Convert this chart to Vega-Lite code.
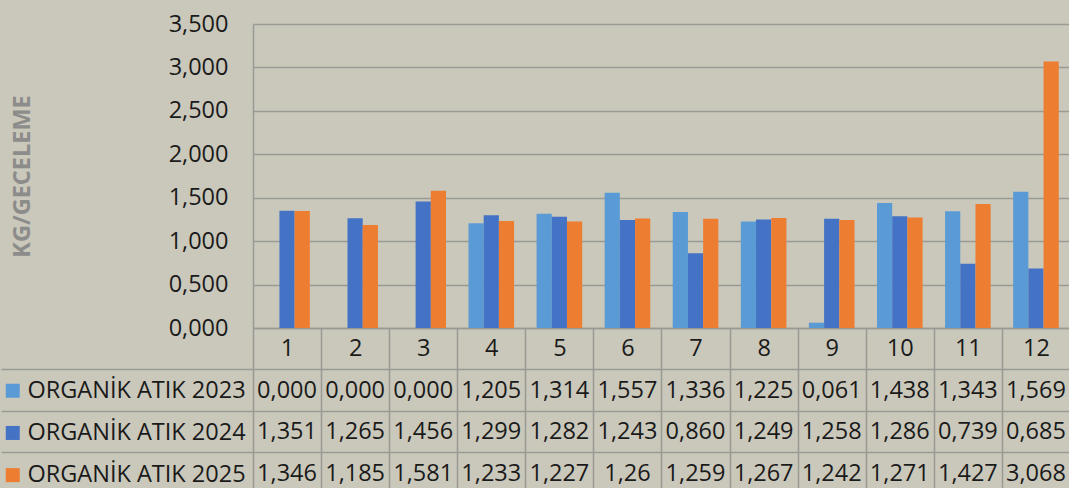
{
  "$schema": "https://vega.github.io/schema/vega-lite/v6.json",
  "background": "#CAC8BB",
  "padding": {"left": 0, "top": 12, "right": -1, "bottom": -6},
  "config": {
    "font": "Open Sans",
    "view": {"stroke": null},
    "locale": {"number": {"decimal": ",", "thousands": ".", "grouping": [3], "currency": ["", ""]}},
    "axis": {
      "labelFont": "Open Sans",
      "labelFontSize": 23.5,
      "labelColor": "#1a1a1a",
      "domainColor": "#9a9a95",
      "gridColor": "#9a9a95",
      "tickColor": "#9a9a95",
      "domainWidth": 1.5,
      "gridWidth": 1.5,
      "tickWidth": 1.5
    }
  },
  "data": {
    "values": [
      {"month": 1, "series": "ORGANİK ATIK 2023", "value": 0.000, "label": "0,000"},
      {"month": 2, "series": "ORGANİK ATIK 2023", "value": 0.000, "label": "0,000"},
      {"month": 3, "series": "ORGANİK ATIK 2023", "value": 0.000, "label": "0,000"},
      {"month": 4, "series": "ORGANİK ATIK 2023", "value": 1.205, "label": "1,205"},
      {"month": 5, "series": "ORGANİK ATIK 2023", "value": 1.314, "label": "1,314"},
      {"month": 6, "series": "ORGANİK ATIK 2023", "value": 1.557, "label": "1,557"},
      {"month": 7, "series": "ORGANİK ATIK 2023", "value": 1.336, "label": "1,336"},
      {"month": 8, "series": "ORGANİK ATIK 2023", "value": 1.225, "label": "1,225"},
      {"month": 9, "series": "ORGANİK ATIK 2023", "value": 0.061, "label": "0,061"},
      {"month": 10, "series": "ORGANİK ATIK 2023", "value": 1.438, "label": "1,438"},
      {"month": 11, "series": "ORGANİK ATIK 2023", "value": 1.343, "label": "1,343"},
      {"month": 12, "series": "ORGANİK ATIK 2023", "value": 1.569, "label": "1,569"},
      {"month": 1, "series": "ORGANİK ATIK 2024", "value": 1.351, "label": "1,351"},
      {"month": 2, "series": "ORGANİK ATIK 2024", "value": 1.265, "label": "1,265"},
      {"month": 3, "series": "ORGANİK ATIK 2024", "value": 1.456, "label": "1,456"},
      {"month": 4, "series": "ORGANİK ATIK 2024", "value": 1.299, "label": "1,299"},
      {"month": 5, "series": "ORGANİK ATIK 2024", "value": 1.282, "label": "1,282"},
      {"month": 6, "series": "ORGANİK ATIK 2024", "value": 1.243, "label": "1,243"},
      {"month": 7, "series": "ORGANİK ATIK 2024", "value": 0.860, "label": "0,860"},
      {"month": 8, "series": "ORGANİK ATIK 2024", "value": 1.249, "label": "1,249"},
      {"month": 9, "series": "ORGANİK ATIK 2024", "value": 1.258, "label": "1,258"},
      {"month": 10, "series": "ORGANİK ATIK 2024", "value": 1.286, "label": "1,286"},
      {"month": 11, "series": "ORGANİK ATIK 2024", "value": 0.739, "label": "0,739"},
      {"month": 12, "series": "ORGANİK ATIK 2024", "value": 0.685, "label": "0,685"},
      {"month": 1, "series": "ORGANİK ATIK 2025", "value": 1.346, "label": "1,346"},
      {"month": 2, "series": "ORGANİK ATIK 2025", "value": 1.185, "label": "1,185"},
      {"month": 3, "series": "ORGANİK ATIK 2025", "value": 1.581, "label": "1,581"},
      {"month": 4, "series": "ORGANİK ATIK 2025", "value": 1.233, "label": "1,233"},
      {"month": 5, "series": "ORGANİK ATIK 2025", "value": 1.227, "label": "1,227"},
      {"month": 6, "series": "ORGANİK ATIK 2025", "value": 1.26, "label": "1,26"},
      {"month": 7, "series": "ORGANİK ATIK 2025", "value": 1.259, "label": "1,259"},
      {"month": 8, "series": "ORGANİK ATIK 2025", "value": 1.267, "label": "1,267"},
      {"month": 9, "series": "ORGANİK ATIK 2025", "value": 1.242, "label": "1,242"},
      {"month": 10, "series": "ORGANİK ATIK 2025", "value": 1.271, "label": "1,271"},
      {"month": 11, "series": "ORGANİK ATIK 2025", "value": 1.427, "label": "1,427"},
      {"month": 12, "series": "ORGANİK ATIK 2025", "value": 3.068, "label": "3,068"}
    ]
  },
  "spacing": 41,
  "bounds": "flush",
  "vconcat": [
    {
      "width": 817,
      "height": 304,
      "mark": {"type": "bar"},
      "encoding": {
        "x": {
          "field": "month",
          "type": "ordinal",
          "scale": {"type": "band", "paddingInner": 0, "paddingOuter": 0},
          "axis": {
            "title": null,
            "labelAngle": 0,
            "tickBand": "extent",
            "tickSize": 41,
            "labelPadding": -20.5,
            "labelBaseline": "middle",
            "domain": true,
            "grid": false
          }
        },
        "xOffset": {
          "field": "series",
          "type": "nominal",
          "scale": {"paddingInner": 0, "paddingOuter": 0.74}
        },
        "y": {
          "field": "value",
          "type": "quantitative",
          "scale": {"domain": [0, 3.5], "nice": false},
          "axis": {
            "values": [0, 0.5, 1, 1.5, 2, 2.5, 3, 3.5],
            "format": ".3f",
            "grid": true,
            "ticks": false,
            "domain": true,
            "labelPadding": 25,
            "title": "KG/GECELEME",
            "titleFont": "Open Sans",
            "titleFontSize": 23.5,
            "titleFontWeight": "bold",
            "titleColor": "#8c8c8a",
            "titlePadding": 134
          }
        },
        "color": {
          "field": "series",
          "type": "nominal",
          "scale": {
            "domain": ["ORGANİK ATIK 2023", "ORGANİK ATIK 2024", "ORGANİK ATIK 2025"],
            "range": ["#5B9BD5", "#4472C4", "#ED7D31"]
          },
          "legend": {
            "orient": "none",
            "legendX": -252,
            "legendY": 355,
            "title": null,
            "direction": "vertical",
            "symbolType": "square",
            "symbolSize": 196,
            "symbolStrokeWidth": 0,
            "labelFont": "Open Sans",
            "labelFontSize": 23.5,
            "labelColor": "#1a1a1a",
            "labelOffset": 3,
            "labelLimit": 400,
            "rowPadding": 17.2,
            "padding": 0
          }
        }
      }
    },
    {
      "width": 817,
      "height": 124.5,
      "mark": {"type": "text", "fontSize": 23.5, "font": "Open Sans", "color": "#1a1a1a", "dy": 1},
      "encoding": {
        "x": {
          "field": "month",
          "type": "ordinal",
          "scale": {"type": "band", "paddingInner": 0, "paddingOuter": 0},
          "axis": {
            "title": null,
            "orient": "top",
            "labels": false,
            "ticks": false,
            "domain": false,
            "grid": true,
            "tickBand": "extent"
          }
        },
        "y": {
          "field": "series",
          "type": "nominal",
          "sort": ["ORGANİK ATIK 2023", "ORGANİK ATIK 2024", "ORGANİK ATIK 2025"],
          "scale": {"type": "band", "paddingInner": 0, "paddingOuter": 0},
          "axis": {
            "title": null,
            "labels": false,
            "ticks": true,
            "tickSize": 252,
            "tickBand": "extent",
            "domain": false,
            "grid": true
          }
        },
        "text": {"field": "label"}
      }
    }
  ]
}
